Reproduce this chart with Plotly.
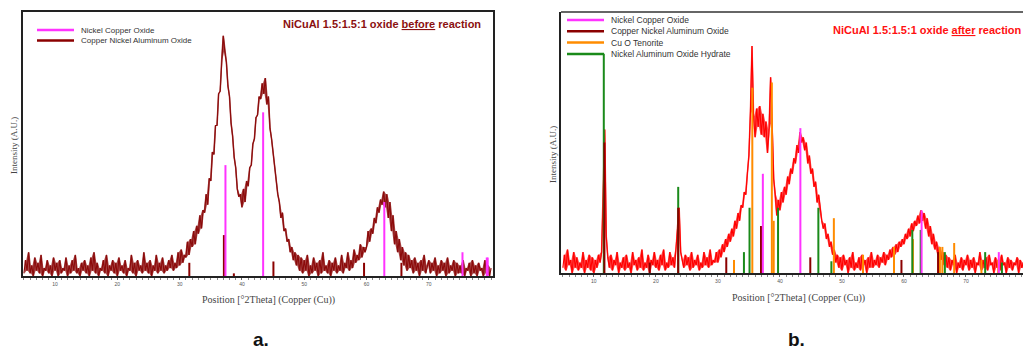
import numpy as np
import plotly.graph_objects as go

# ---------------- data ----------------
two_theta = np.arange(5.0, 80.001, 0.25)

intensity_before = [
    1, 6, 2, 9, 1, 4, 0, 7, 2, 5, 1, 8, 0, 3, 2, 6, 1, 4, 0, 7,          # 5
    2, 5, 0, 6, 1, 3, 2, 7, 0, 4, 1, 6, 2, 8, 1, 3, 0, 5, 2, 6,          # 10
    1, 4, 0, 7, 2, 9, 1, 5, 0, 3, 2, 6, 1, 8, 0, 4, 2, 6, 1, 5,          # 15
    0, 7, 2, 4, 1, 6, 0, 3, 2, 8, 1, 5, 0, 6, 2, 4, 1, 9, 2, 5,          # 20
    1, 6, 0, 4, 2, 8, 1, 5, 2, 7, 1, 4, 2, 6, 3, 8, 2, 5, 3, 9,          # 25
    4, 10, 5, 8, 7, 13, 8, 14, 11, 17, 12, 19, 16, 23, 18, 25, 24, 31, 27, 37,   # 30
    36, 47, 46, 57, 57, 69, 70, 82, 91, 85, 81, 72, 68, 58, 53, 45, 41, 33, 30, 31,  # 35
    26, 33, 28, 36, 34, 41, 42, 50, 52, 60, 61, 68, 67, 73, 69, 75, 65, 68, 56, 52,  # 40
    47, 40, 37, 31, 28, 22, 24, 17, 18, 13, 14, 9, 11, 6, 9, 4, 8, 2, 7, 1,          # 45
    6, 2, 8, 0, 4, 1, 7, 2, 5, 0, 6, 1, 9, 2, 4, 1, 6, 0, 5, 2,          # 50
    7, 1, 4, 2, 8, 1, 5, 3, 9, 2, 6, 3, 10, 5, 8, 6, 12, 7, 11, 9,       # 55
    11, 17, 13, 18, 16, 22, 20, 26, 24, 29, 27, 32, 26, 31, 22, 28, 17, 23, 12, 17,  # 60
    9, 14, 6, 11, 4, 9, 2, 8, 3, 6, 1, 7, 2, 5, 0, 6, 2, 8, 1, 4,        # 65
    6, 1, 5, 2, 7, 0, 4, 1, 6, 2, 5, 0, 7, 1, 4, 2, 6, 0, 5, 1,          # 70
    4, 1, 6, 0, 3, 2, 5, 0, 6, 1, 4, 0, 5, 2, 3, 0, 6, 1, 4, 0,          # 75
    3,
]

intensity_after = [
    2, 7, 1, 9, 3, 5, 0, 8, 2, 6, 1, 4, 2, 8, 0, 5, 2, 7, 1, 6,          # 5
    0, 5, 2, 7, 4, 8, 30, 55, 14, 6, 2, 7, 1, 5, 3, 8, 0, 4, 2, 6,       # 10
    1, 7, 2, 4, 0, 8, 3, 5, 1, 6, 2, 9, 1, 4, 2, 7, 0, 5, 3, 8,          # 15
    2, 5, 1, 7, 3, 9, 1, 4, 2, 8, 3, 6, 2, 9, 18, 25, 8, 5, 2, 7,        # 20
    3, 6, 1, 8, 2, 5, 3, 7, 1, 4, 2, 8, 3, 6, 2, 9, 3, 5, 4, 8,          # 25
    4, 9, 6, 11, 8, 13, 10, 15, 12, 17, 14, 20, 17, 23, 20, 26, 25, 31, 30, 38,  # 30
    45, 62, 87, 60, 52, 63, 56, 64, 53, 61, 52, 58, 46, 55, 75, 58, 36, 30, 22, 28,  # 35
    24, 31, 27, 33, 30, 37, 34, 40, 38, 44, 42, 49, 46, 54, 50, 52, 47, 50, 42, 45,  # 40
    38, 40, 33, 35, 27, 30, 24, 20, 17, 19, 13, 15, 10, 12, 7, 9, 4, 7, 2, 6,        # 45
    1, 7, 3, 5, 0, 6, 2, 8, 1, 4, 2, 6, 1, 7, 3, 5, 0, 6, 2, 8,          # 50
    2, 5, 3, 7, 2, 6, 4, 8, 3, 7, 5, 9, 6, 10, 7, 11, 8, 12, 10, 13,     # 55
    11, 15, 13, 17, 14, 19, 16, 20, 18, 22, 19, 24, 20, 23, 17, 21, 14, 18, 11, 15,  # 60
    9, 12, 7, 10, 5, 8, 3, 7, 2, 6, 1, 5, 3, 7, 0, 4, 2, 6, 1, 5,        # 65
    3, 7, 1, 5, 2, 6, 0, 4, 3, 8, 1, 5, 2, 6, 1, 7, 3, 4, 0, 6,          # 70
    2, 5, 1, 7, 3, 4, 0, 6, 2, 5, 1, 4, 3, 6, 0, 5, 2, 4, 1, 5,          # 75
    3,
]

# reference patterns (position, relative height)
a_nco_pos = [37.35, 43.4, 62.85, 75.4, 79.3, 79.45]
a_nco_h = [42, 62, 28, 9, 7, 7]
a_cnao_pos = [31.55, 37.1, 38.7, 45.05, 59.6, 65.6]
a_cnao_h = [5, 15.5, 1, 5.5, 5, 5]

b_nco_pos = [37.25, 43.3, 62.85, 75.3]
b_nco_h = [38, 55.5, 24, 8]
b_cnao_pos = [11.7, 19.0, 23.6, 31.35, 36.95, 44.9, 59.6, 65.5]
b_cnao_h = [50, 4, 25, 6, 18, 6, 5, 8]
b_cuo_pos = [32.6, 35.55, 38.7, 39.0, 48.7, 53.4, 58.4, 61.45, 65.8, 66.2, 68.1, 72.5, 75.2]
b_cuo_h = [5, 71, 73, 20, 21, 7, 10, 13, 10, 10, 11.5, 5, 5]
b_naoh_pos = [11.6, 23.6, 34.2, 35.1, 39.7, 46.2, 48.3, 61.35, 62.7, 66.6, 73.1, 75.8]
b_naoh_h = [84, 33, 8, 25, 25, 25, 4.5, 16.5, 16.5, 8, 8, 4]

legend_a = ["Nickel Copper Oxide", "Copper Nickel Aluminum Oxide"]
legend_b = ["Nickel Copper Oxide", "Copper Nickel Aluminum Oxide",
            "Cu O Tenorite", "Nickel Aluminum Oxide Hydrate"]
title_a = "<b>NiCuAl 1.5:1.5:1 oxide <u>before</u> reaction</b>"
title_b = "<b>NiCuAl 1.5:1.5:1 oxide <u>after</u> reaction</b>"
x_title = "Position [°2Theta] (Copper (Cu))"
y_title = "Intensity (A.U.)"
tick_vals = [10, 20, 30, 40, 50, 60, 70]

# ---------------- styles ----------------
MAGENTA = "#ff33ff"
DARKRED = "#8b0000"
CURVE_A = "#8b0a0a"
CURVE_A_BAND = "rgba(139,10,10,0.75)"
CURVE_B = "#ff0000"
CURVE_B_BAND = "rgba(255,0,0,0.7)"
ORANGE = "#ff8c00"
GREEN = "#1a8a1a"

W, H = 1023, 349


def px_x(p):
    return p / W


def px_y(p):
    return 1 - p / H


def sticks(pos, h):
    xs, ys = [], []
    for p, v in zip(pos, h):
        xs += [p, p, None]
        ys += [0, v, None]
    return xs, ys


def band(x, y):
    """Vertical extent of each segment of the noisy scan (drawn as a band)."""
    y = np.asarray(y, dtype=float)
    xm = (x[:-1] + x[1:]) / 2
    return xm, np.minimum(y[:-1], y[1:]), np.maximum(y[:-1], y[1:])


fig = go.Figure()


def add_scan(xax, yax, y, line_col, band_col):
    xm, lo, hi = band(two_theta, y)
    fig.add_trace(go.Scatter(x=xm, y=lo, mode="lines", line=dict(width=0, color=band_col),
                             xaxis=xax, yaxis=yax, showlegend=False, hoverinfo="skip"))
    fig.add_trace(go.Scatter(x=xm, y=hi, mode="lines", line=dict(width=0, color=band_col),
                             fill="tonexty", fillcolor=band_col,
                             xaxis=xax, yaxis=yax, showlegend=False, hoverinfo="skip"))
    fig.add_trace(go.Scatter(x=two_theta, y=y, mode="lines",
                             line=dict(color=line_col, width=1.1), xaxis=xax, yaxis=yax,
                             showlegend=False))


# panel a
add_scan("x", "y", intensity_before, CURVE_A, CURVE_A_BAND)
for pos, h, col in [(a_cnao_pos, a_cnao_h, DARKRED), (a_nco_pos, a_nco_h, MAGENTA)]:
    xs, ys = sticks(pos, h)
    fig.add_trace(go.Scatter(x=xs, y=ys, mode="lines", line=dict(color=col, width=2),
                             xaxis="x", yaxis="y", showlegend=False))

# panel b
add_scan("x2", "y2", intensity_after, CURVE_B, CURVE_B_BAND)
for pos, h, col in [(b_cuo_pos, b_cuo_h, ORANGE), (b_naoh_pos, b_naoh_h, GREEN),
                    (b_cnao_pos, b_cnao_h, DARKRED), (b_nco_pos, b_nco_h, MAGENTA)]:
    xs, ys = sticks(pos, h)
    fig.add_trace(go.Scatter(x=xs, y=ys, mode="lines", line=dict(color=col, width=2),
                             xaxis="x2", yaxis="y2", showlegend=False))

axis_common = dict(tickvals=tick_vals, ticks="outside", ticklen=2, tickcolor="#666",
                   tickfont=dict(size=5, color="#555", family="Liberation Sans"),
                   showgrid=False, zeroline=False, showline=True, linecolor="#222",
                   linewidth=2,
                   minor=dict(dtick=1, ticks="outside", ticklen=1.5, tickcolor="#888"))
yaxis_common = dict(showticklabels=False, ticks="", showgrid=False, zeroline=False,
                    showline=True, linecolor="#222", linewidth=2, fixedrange=True)

fig.update_layout(
    width=W, height=H, autosize=False,
    margin=dict(l=0, r=0, t=0, b=0),
    paper_bgcolor="white", plot_bgcolor="white",
    xaxis=dict(domain=[px_x(23), px_x(493)], range=[4.85, 80.3], anchor="y",
               mirror=True, **axis_common),
    yaxis=dict(domain=[px_y(276), px_y(12)], range=[0, 100], anchor="x",
               mirror=True, **yaxis_common),
    xaxis2=dict(domain=[px_x(561), 1.0], range=[4.7, 79.2], anchor="y2", **axis_common),
    yaxis2=dict(domain=[px_y(273), px_y(12)], range=[0, 100], anchor="x2", **yaxis_common),
)

shapes = [dict(type="line", xref="paper", yref="paper", x0=px_x(561), x1=1.0,
               y0=px_y(12), y1=px_y(12), line=dict(color="#333", width=1.5))]

annotations = []
# legends
for i, (name, col) in enumerate(zip(legend_a, [MAGENTA, DARKRED])):
    y = 30 + i * 10.5
    shapes.append(dict(type="line", xref="paper", yref="paper", x0=px_x(37), x1=px_x(74),
                       y0=px_y(y), y1=px_y(y), line=dict(color=col, width=2.5)))
    annotations.append(dict(xref="paper", yref="paper", x=px_x(79), y=px_y(y), text=name,
                            showarrow=False, xanchor="left", yanchor="middle",
                            font=dict(size=8, color="#333", family="Liberation Sans")))
for i, (name, col) in enumerate(zip(legend_b, [MAGENTA, DARKRED, ORANGE, GREEN])):
    y = 20 + i * 11.3
    shapes.append(dict(type="line", xref="paper", yref="paper", x0=px_x(567), x1=px_x(604),
                       y0=px_y(y), y1=px_y(y), line=dict(color=col, width=2.5)))
    annotations.append(dict(xref="paper", yref="paper", x=px_x(609), y=px_y(y), text=name,
                            showarrow=False, xanchor="left", yanchor="middle",
                            font=dict(size=8.5, color="#333", family="Liberation Sans")))

# titles
annotations.append(dict(xref="paper", yref="paper", x=px_x(382), y=px_y(24), text=title_a,
                        showarrow=False, xanchor="center", yanchor="middle",
                        font=dict(size=11, color="#8b1010", family="Liberation Sans")))
annotations.append(dict(xref="paper", yref="paper", x=px_x(927), y=px_y(30), text=title_b,
                        showarrow=False, xanchor="center", yanchor="middle",
                        font=dict(size=11, color="#ff1010", family="Liberation Sans")))
# axis titles
for xc, yc in [(268, 300), (798, 298)]:
    annotations.append(dict(xref="paper", yref="paper", x=px_x(xc), y=px_y(yc), text=x_title,
                            showarrow=False, xanchor="center", yanchor="middle",
                            font=dict(size=10, color="#444", family="Liberation Serif")))
for xc, yc in [(14, 146), (553, 155)]:
    annotations.append(dict(xref="paper", yref="paper", x=px_x(xc), y=px_y(yc), text=y_title,
                            showarrow=False, xanchor="center", yanchor="middle", textangle=-90,
                            font=dict(size=9, color="#444", family="Liberation Serif")))
# panel labels
for lab, xc in [("<b>a.</b>", 261), ("<b>b.</b>", 796)]:
    annotations.append(dict(xref="paper", yref="paper", x=px_x(xc), y=px_y(339), text=lab,
                            showarrow=False, xanchor="center", yanchor="middle",
                            font=dict(size=19, color="#111", family="Liberation Sans")))

fig.update_layout(shapes=shapes, annotations=annotations)
fig.write_html("out.html", config={"displayModeBar": False},
               post_script="document.body.style.margin='0';document.body.style.padding='0';")
